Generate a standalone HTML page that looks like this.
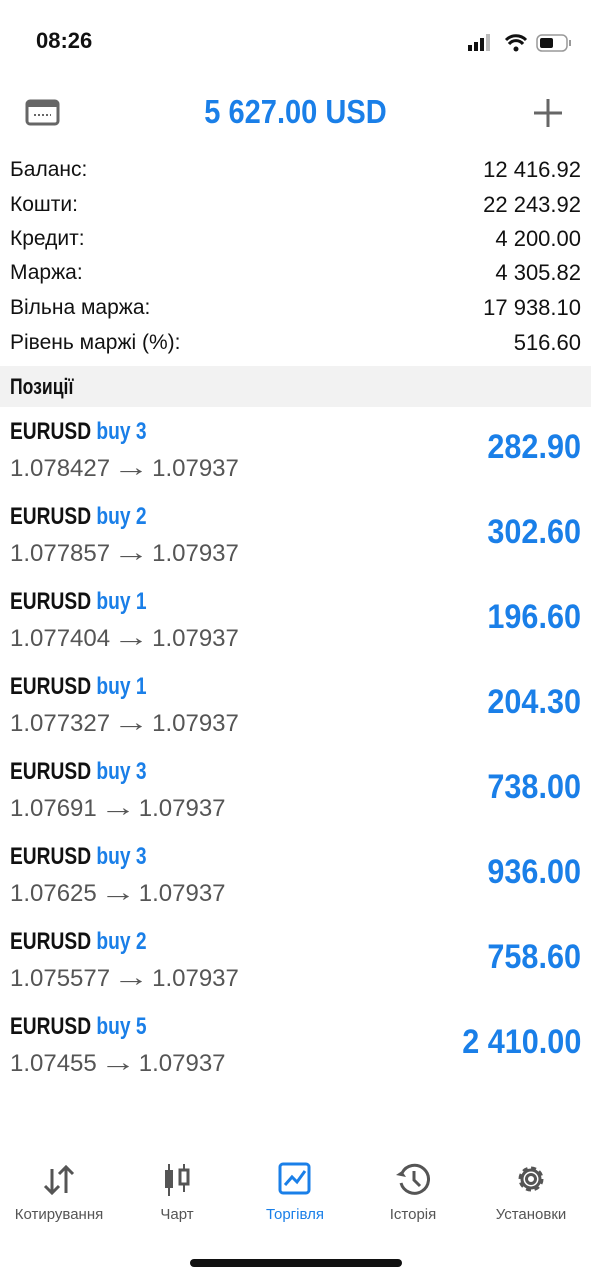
<!DOCTYPE html>
<html><head><meta charset="utf-8"><style>
*{margin:0;padding:0;box-sizing:border-box}
body{width:591px;height:1280px;background:#fff;position:relative;overflow:hidden;font-family:"Liberation Sans",sans-serif;color:#111}
.a{position:absolute}
.n{font-family:"Liberation Sans Narrow","Liberation Sans",sans-serif;font-weight:bold;white-space:nowrap}
.lbl{left:10px;font-size:21px;line-height:26px;color:#111}
.val{right:10px;font-size:22px;line-height:26px;color:#111;text-align:right}
.sym{left:10px;font-size:24px;transform:scaleX(0.8);transform-origin:left center}
.sym span{color:#1a7fe8}
.px{left:10px;font-size:24px;color:#555;white-space:nowrap}
.px b{font-weight:normal;font-size:26px;display:inline-block;transform:scaleX(1.4);margin:0 8px}
.pl{right:10px;font-size:34px;color:#1a7fe8;text-align:right;transform:scaleX(0.9);transform-origin:right center}
.nav{font-size:15px;color:#555;text-align:center;width:118px}
</style></head><body>
<div class="a" style="left:36px;top:28px;font-size:22px;font-weight:bold">08:26</div>
<svg class="a" style="left:466px;top:32px" width="110" height="24">
<rect x="2" y="13" width="4" height="6" fill="#111"/><rect x="8" y="10" width="4" height="9" fill="#111"/><rect x="14" y="6" width="4" height="13" fill="#111"/><rect x="20" y="2" width="4" height="17" fill="#bbb"/>
<path d="M40 8 a14 14 0 0 1 20 0 M43 12 a9 9 0 0 1 14 0" stroke="#111" stroke-width="3" fill="none"/><circle cx="50" cy="17" r="2.5" fill="#111"/>
<rect x="71" y="3" width="30" height="16" rx="5" fill="none" stroke="#999" stroke-width="1.5"/><rect x="74" y="6" width="13" height="10" rx="2" fill="#111"/><rect x="103" y="8" width="2" height="6" fill="#999"/>
</svg>
<svg class="a" style="left:25px;top:98px" width="36" height="30"><rect x="2" y="3" width="31" height="23" rx="3" fill="none" stroke="#666" stroke-width="3"/><rect x="2" y="3" width="31" height="6" fill="#666"/><path d="M9 17h17" stroke="#666" stroke-width="2" stroke-dasharray="2 2"/></svg>
<div class="a n" style="left:0;width:591px;top:93px;text-align:center;font-size:33px;color:#1a7fe8;transform:scaleX(0.88)">5 627.00 USD</div>
<svg class="a" style="left:532px;top:97px" width="32" height="32"><path d="M16 2v28M2 16h28" stroke="#666" stroke-width="3"/></svg>

<div class="a lbl" style="top:157px">Баланс:</div><div class="a val" style="top:157px">12 416.92</div>
<div class="a lbl" style="top:192px">Кошти:</div><div class="a val" style="top:192px">22 243.92</div>
<div class="a lbl" style="top:226px">Кредит:</div><div class="a val" style="top:226px">4 200.00</div>
<div class="a lbl" style="top:260px">Маржа:</div><div class="a val" style="top:260px">4 305.82</div>
<div class="a lbl" style="top:295px">Вільна маржа:</div><div class="a val" style="top:295px">17 938.10</div>
<div class="a lbl" style="top:330px">Рівень маржі (%):</div><div class="a val" style="top:330px">516.60</div>

<div class="a" style="left:0;top:366px;width:591px;height:41px;background:#f2f2f2"><div class="n" style="position:absolute;left:10px;top:8px;font-size:22px;transform:scaleX(0.8);transform-origin:left center">Позиції</div></div>

<div id="list"></div>

<svg class="a" style="left:42px;top:1163px" width="34" height="34"><path d="M10 6v24M3 23l7 7 7-7M24 30V4M17 11l7-7 7 7" stroke="#555" stroke-width="3" fill="none"/></svg>
<svg class="a" style="left:162px;top:1162px" width="30" height="34"><path d="M7 2v32M22 2v28" stroke="#555" stroke-width="2"/><rect x="3" y="8" width="8" height="18" fill="#555"/><rect x="18" y="8" width="8" height="14" fill="#fff" stroke="#555" stroke-width="3"/></svg>
<svg class="a" style="left:278px;top:1162px" width="34" height="34"><rect x="2" y="2" width="29" height="29" rx="3" fill="none" stroke="#1a7fe8" stroke-width="3"/><path d="M7 23l7-8 5 5 8-11" stroke="#1a7fe8" stroke-width="3" fill="none"/></svg>
<svg class="a" style="left:394px;top:1161px" width="36" height="36"><path d="M8 12 A14 14 0 1 1 7 22" stroke="#555" stroke-width="3" fill="none"/><path d="M2 14l6-4 4 6z" fill="#555"/><path d="M20 10v9l6 6" stroke="#555" stroke-width="3" fill="none"/></svg>
<svg class="a" style="left:513px;top:1161px" width="36" height="36"><circle cx="18" cy="18" r="11" fill="none" stroke="#555" stroke-width="3" stroke-dasharray="5 3.6"/><circle cx="18" cy="18" r="9" fill="none" stroke="#555" stroke-width="3"/><circle cx="18" cy="18" r="4.5" fill="none" stroke="#555" stroke-width="3"/></svg>
<div class="a nav" style="left:0;top:1206px">Котирування</div>
<div class="a nav" style="left:118px;top:1206px">Чарт</div>
<div class="a nav" style="left:236px;top:1206px;color:#1a7fe8">Торгівля</div>
<div class="a nav" style="left:354px;top:1206px">Історія</div>
<div class="a nav" style="left:472px;top:1206px">Установки</div>
<div class="a" style="left:190px;top:1259px;width:212px;height:8px;border-radius:4px;background:#111"></div>

<script>
const vols=[3,2,1,1,3,3,2,5];
const opens=["1.078427","1.077857","1.077404","1.077327","1.07691","1.07625","1.075577","1.07455"];
const profits=["282.90","302.60","196.60","204.30","738.00","936.00","758.60","2 410.00"];
const list=document.getElementById('list');
vols.forEach((v,i)=>{
  const y=418+i*85;
  const s=document.createElement('div');s.className='a n sym';s.style.top=y+'px';
  
  
  s.innerHTML='EURUSD <span>buy '+v+'</span>';list.appendChild(s);
  const p=document.createElement('div');p.className='a px';p.style.top=(y+34)+'px';
  
  
  p.innerHTML=opens[i]+'<b>→</b>1.07937';list.appendChild(p);
  const r=document.createElement('div');r.className='a n pl';r.style.top=(y+10)+'px';
  
  
  r.textContent=profits[i];list.appendChild(r);
});
</script>
</body></html>
